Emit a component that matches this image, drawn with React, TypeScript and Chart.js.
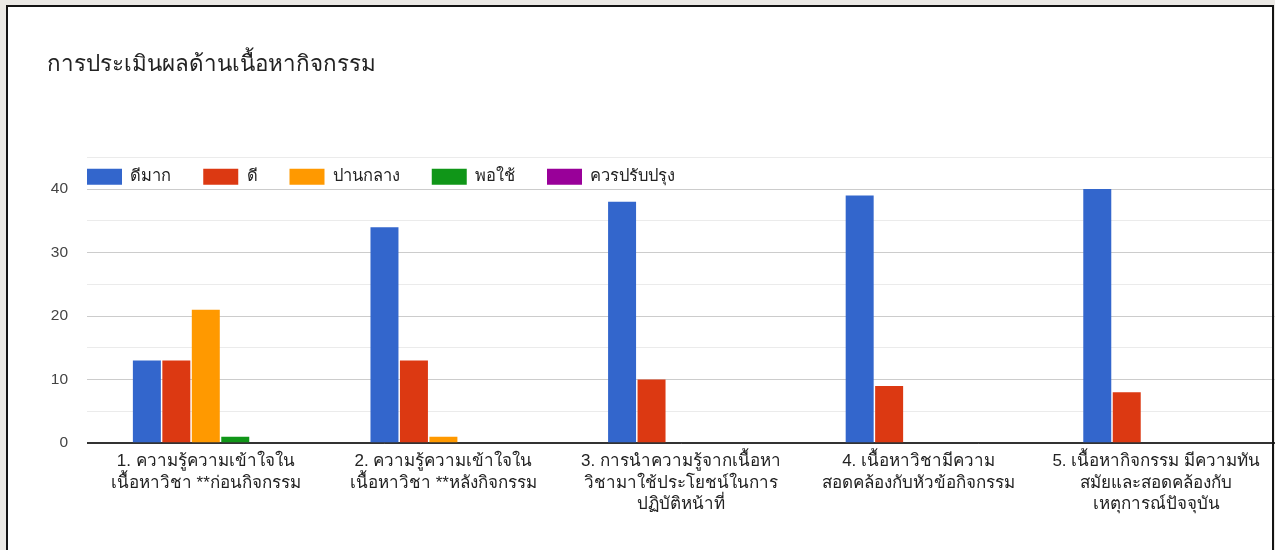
import React, { useEffect, useRef } from "react";
import { Chart, registerables } from "chart.js";

Chart.register(...registerables);

const title = "การประเมินผลด้านเนื้อหากิจกรรม";

const categories: string[][] = [
  ["1. ความรู้ความเข้าใจใน", "เนื้อหาวิชา **ก่อนกิจกรรม"],
  ["2. ความรู้ความเข้าใจใน", "เนื้อหาวิชา **หลังกิจกรรม"],
  ["3. การนำความรู้จากเนื้อหา", "วิชามาใช้ประโยชน์ในการ", "ปฏิบัติหน้าที่"],
  ["4. เนื้อหาวิชามีความ", "สอดคล้องกับหัวข้อกิจกรรม"],
  ["5. เนื้อหากิจกรรม มีความทัน", "สมัยและสอดคล้องกับ", "เหตุการณ์ปัจจุบัน"],
];

const seriesNames = ["ดีมาก", "ดี", "ปานกลาง", "พอใช้", "ควรปรับปรุง"];

const veryGood = [13, 34, 38, 39, 40];
const good = [13, 13, 10, 9, 8];
const medium = [21, 1, 0, 0, 0];
const fair = [1, 0, 0, 0, 0];
const improve = [0, 0, 0, 0, 0];

const seriesColors = ["#3366cc", "#dc3912", "#ff9900", "#109618", "#990099"];

const yMax = 45;
const yStep = 5;
const yLabelStep = 10;

const FONT = 'Arial, "Liberation Sans", "Noto Sans", sans-serif';

const legendInside = {
  id: "legendInside",
  afterLayout(chart: any) {
    const lg = chart.legend;
    if (!lg) return;
    const pad = lg.options.labels.padding;
    const area = chart.chartArea;
    const w = lg.width;
    lg.left = area.left - pad;
    lg.right = lg.left + w;
    lg.top = area.top + 11 - pad;
    lg.bottom = lg.top + lg.height;
  },
};

export default function App() {
  const ref = useRef<HTMLCanvasElement>(null);

  useEffect(() => {
    if (!ref.current) return;
    const values = [veryGood, good, medium, fair, improve];
    const chart = new Chart(ref.current, {
      type: "bar",
      data: {
        labels: categories,
        datasets: seriesNames.map((name, i) => ({
          label: name,
          data: values[i],
          backgroundColor: seriesColors[i],
          borderWidth: 0,
          categoryPercentage: 0.62,
          barPercentage: 0.95,
        })),
      },
      plugins: [legendInside],
      options: {
        responsive: false,
        animation: false,
        font: { family: FONT },
        layout: { padding: { left: 47, top: 20, right: 0, bottom: 0 } },
        plugins: {
          title: {
            display: true,
            text: title,
            align: "start",
            color: "#222",
            font: { family: FONT, size: 22.4, weight: "normal", lineHeight: 1.2 },
            padding: { top: 31, bottom: 21 },
          },
          legend: {
            display: true,
            position: "top",
            align: "start",
            fullSize: false,
            labels: {
              boxWidth: 35,
              boxHeight: 16,
              padding: 32,
              color: "#222",
              font: { family: FONT, size: 16.5 },
            },
          },
          tooltip: { enabled: false },
        },
        scales: {
          x: {
            grid: { display: false },
            border: { display: true, color: "#333", width: 1 },
            ticks: {
              color: "#222",
              font: { family: FONT, size: 17, lineHeight: 1.26 },
              padding: 0,
              maxRotation: 0,
              autoSkip: false,
            },
            afterFit(scale: any) {
              scale.height = 107;
            },
          },
          y: {
            min: 0,
            max: yMax,
            border: { display: false },
            grid: {
              drawTicks: false,
              color: (ctx: any) => {
                const v = ctx.tick ? ctx.tick.value : 1;
                if (v === 0) return "#333";
                return v % yLabelStep === 0 ? "#cccccc" : "#ebebeb";
              },
              lineWidth: (ctx: any) => (ctx.tick && ctx.tick.value === 0 ? 1.5 : 1),
            },
            ticks: {
              stepSize: yStep,
              padding: 19,
              color: "#444",
              font: { family: FONT, size: 15.5 },
              autoSkip: false,
              callback: (v: any) => (Number(v) % yLabelStep === 0 ? String(v) : ""),
            },
            afterFit(scale: any) {
              scale.width = 40;
            },
          },
        },
      },
    });
    return () => chart.destroy();
  }, []);

  return (
    <div
      style={{
        position: "fixed",
        left: 0,
        top: 0,
        width: 1275,
        height: 550,
        background: "#ebe9e5",
        overflow: "hidden",
      }}
    >
      <div
        style={{
          position: "absolute",
          left: 6,
          top: 5,
          width: 1268,
          height: 600,
          background: "#ffffff",
        }}
      />
      <canvas
        ref={ref}
        width={1275}
        height={550}
        style={{ position: "absolute", left: 0, top: 0, width: 1275, height: 550 }}
      />
      <div
        style={{
          position: "absolute",
          left: 6,
          top: 5,
          width: 1268,
          height: 600,
          boxSizing: "border-box",
          border: "2px solid #141414",
          pointerEvents: "none",
        }}
      />
    </div>
  );
}
